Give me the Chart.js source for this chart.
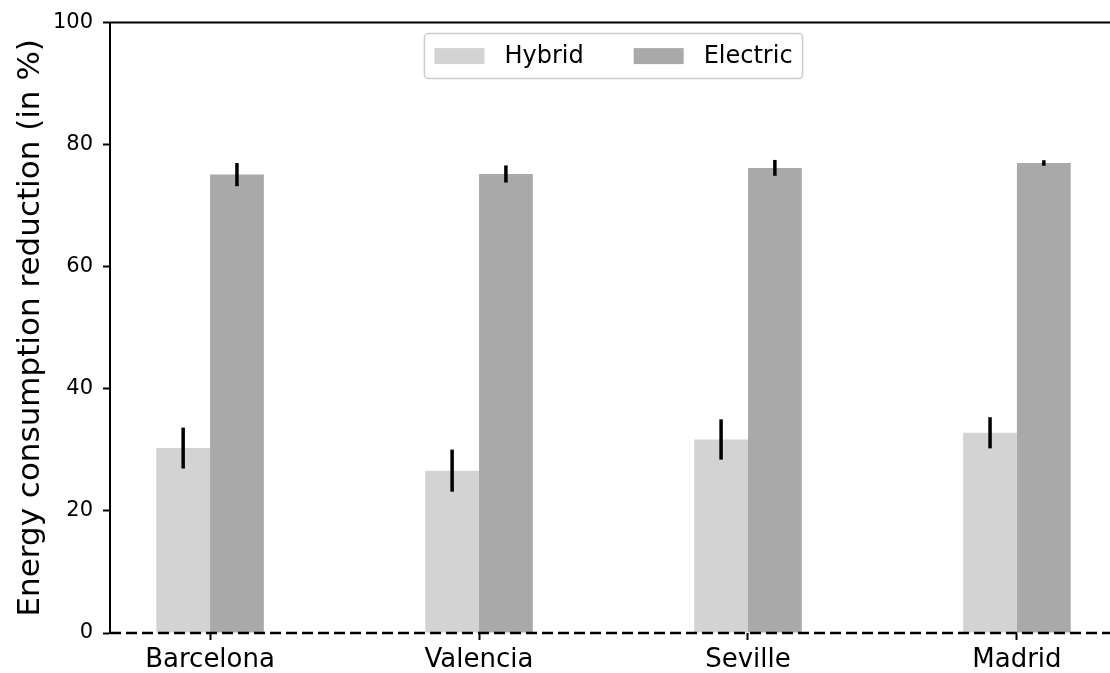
<!DOCTYPE html>
<html>
<head>
<meta charset="utf-8">
<script src="https://cdn.jsdelivr.net/npm/chart.js@4.4.1/dist/chart.umd.min.js"></script>
<style>
  html, body { margin: 0; padding: 0; overflow: hidden; background: #fff; }
  #wrap { width: 1110px; height: 673px; overflow: hidden; }
</style>
</head>
<body>
<div id="wrap"><canvas id="myChart" width="1117" height="673"></canvas></div>
<script>
const cities = ['Barcelona', 'Valencia', 'Seville', 'Madrid'];
const hybrid = [30.3, 26.6, 31.7, 32.8];
const hybridErr = [3.35, 3.45, 3.3, 2.55];
const electric = [75.1, 75.2, 76.2, 77.0];
const electricErr = [1.9, 1.4, 1.3, 0.45];
const yTicks = [0, 20, 40, 60, 80, 100];

const FONT = "'DejaVu Sans', sans-serif";
Chart.defaults.color = '#000';
Chart.defaults.font.family = FONT;

// black vertical error bars, no caps
const errorBars = {
    id: 'errorBars',
    afterDatasetsDraw(chart) {
        const ctx = chart.ctx;
        const y = chart.scales.y;
        ctx.save();
        ctx.strokeStyle = '#000';
        ctx.lineWidth = 3.5;
        chart.data.datasets.forEach((ds, di) => {
            const meta = chart.getDatasetMeta(di);
            meta.data.forEach((bar, i) => {
                const v = ds.data[i].y;
                const e = ds.errors[i];
                ctx.beginPath();
                ctx.moveTo(bar.x, y.getPixelForValue(v - e));
                ctx.lineTo(bar.x, y.getPixelForValue(v + e));
                ctx.stroke();
            });
        });
        // dashed zero line across the axes
        const a = chart.chartArea;
        const y0 = y.getPixelForValue(0);
        ctx.setLineDash([11, 5]);
        ctx.lineWidth = 2.5;
        ctx.beginPath();
        ctx.moveTo(a.left, y0);
        ctx.lineTo(a.right, y0);
        ctx.stroke();
        ctx.restore();
    }
};

// top spine + framed legend inside the plot
const frame = {
    id: 'frame',
    afterDraw(chart) {
        const ctx = chart.ctx;
        const a = chart.chartArea;
        ctx.save();
        ctx.strokeStyle = '#000';
        ctx.lineWidth = 2;
        ctx.beginPath();
        ctx.moveTo(a.left - 1, a.top);
        ctx.lineTo(a.right, a.top);
        ctx.stroke();

        ctx.font = '24px ' + FONT;
        const sw = 50, sh = 16, gap = 20, sep = 50, pad = 10, h = 45;
        const items = chart.data.datasets.map(ds => ({
            label: ds.label, color: ds.backgroundColor, w: ctx.measureText(ds.label).width
        }));
        let total = pad * 2 + sep * (items.length - 1);
        items.forEach(it => total += sw + gap + it.w);
        const bx = (a.left + a.right) / 2 - total / 2;
        const by = a.top + 11;
        ctx.fillStyle = 'rgba(255,255,255,0.8)';
        ctx.strokeStyle = '#cccccc';
        ctx.lineWidth = 1.5;
        ctx.beginPath();
        ctx.roundRect(bx, by, total, h, 4);
        ctx.fill();
        ctx.stroke();
        let x = bx + pad;
        const cy = by + h / 2;
        ctx.textBaseline = 'middle';
        items.forEach(it => {
            ctx.fillStyle = it.color;
            ctx.fillRect(x, cy - sh / 2, sw, sh);
            x += sw + gap;
            ctx.fillStyle = '#000';
            ctx.fillText(it.label, x, cy + 1);
            x += it.w + sep;
        });
        ctx.restore();
    }
};

new Chart(document.getElementById('myChart'), {
    type: 'bar',
    data: {
        datasets: [{
            label: 'Hybrid',
            data: cities.map((c, i) => ({ x: i, y: hybrid[i] })),
            errors: hybridErr,
            backgroundColor: '#d3d3d3'
        }, {
            label: 'Electric',
            data: cities.map((c, i) => ({ x: i, y: electric[i] })),
            errors: electricErr,
            backgroundColor: '#a9a9a9'
        }]
    },
    options: {
        responsive: false,
        animation: false,
        devicePixelRatio: 1,
        categoryPercentage: 0.4,
        barPercentage: 1.0,
        layout: { padding: { top: 22, left: 0, right: 0, bottom: 0 } },
        plugins: { legend: { display: false }, tooltip: { enabled: false } },
        scales: {
            x: {
                type: 'linear',
                offset: false,
                min: -0.372,
                max: 3.372,
                afterBuildTicks: s => { s.ticks = cities.map((c, i) => ({ value: i })); },
                afterFit: s => { s.height = 40; },
                ticks: {
                    callback: v => cities[v],
                    font: { size: 26 },
                    padding: 5,
                    maxRotation: 0,
                    autoSkip: false
                },
                grid: { offset: false, drawOnChartArea: false, tickLength: 7, tickWidth: 2, tickColor: '#000' },
                border: { display: false }
            },
            y: {
                min: 0,
                max: 100,
                afterBuildTicks: s => { s.ticks = yTicks.map(v => ({ value: v })); },
                afterFit: s => { s.width = 110; },
                ticks: { font: { size: 21 }, padding: 10 },
                grid: { drawOnChartArea: false, tickLength: 7, tickWidth: 2, tickColor: '#000' },
                border: { display: true, color: '#000', width: 2 },
                title: {
                    display: true,
                    text: 'Energy consumption reduction (in %)',
                    font: { size: 31 },
                    padding: { top: 12, bottom: 0 }
                }
            }
        }
    },
    plugins: [errorBars, frame]
});
</script>
</body>
</html>
